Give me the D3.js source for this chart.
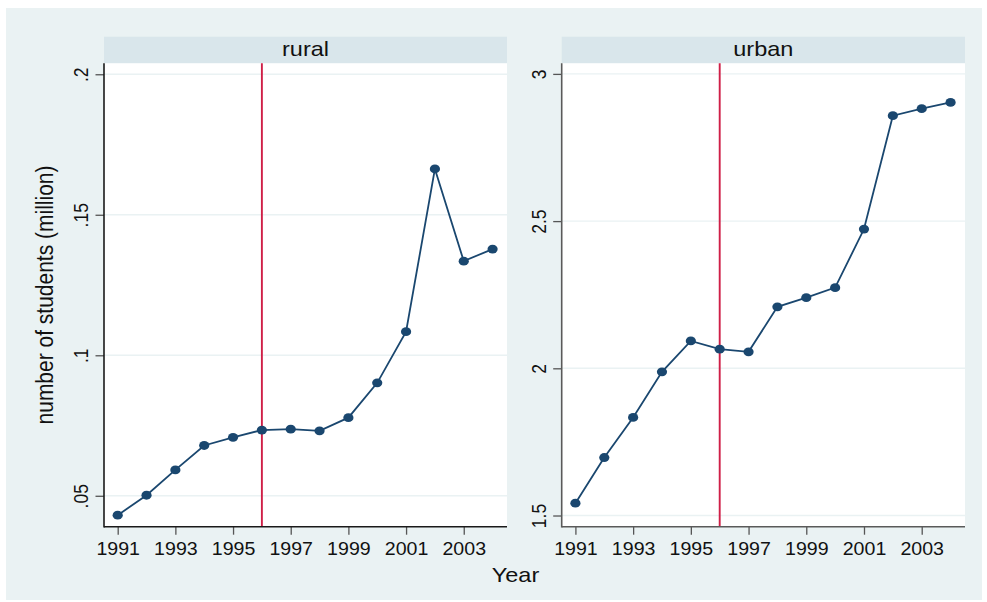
<!DOCTYPE html>
<html>
<head>
<meta charset="utf-8">
<script src="https://cdn.jsdelivr.net/npm/d3@7"></script>
<style>
  html, body { margin: 0; padding: 0; background: #ffffff; }
  text { font-family: "Liberation Sans", Arial, Helvetica, sans-serif; fill: #111; }
</style>
</head>
<body>
<svg id="chart" width="987" height="602"></svg>
<script>
// Number of students (million) by year, rural vs urban
const years = [1991, 1992, 1993, 1994, 1995, 1996, 1997, 1998, 1999, 2000, 2001, 2002, 2003, 2004];
const rural = [0.0431, 0.0502, 0.0592, 0.0679, 0.0708, 0.0734, 0.0737, 0.0731, 0.0778, 0.0902, 0.1084, 0.1663, 0.1335, 0.1378];
const urban = [1.542, 1.697, 1.833, 1.988, 2.093, 2.065, 2.056, 2.209, 2.240, 2.274, 2.473, 2.858, 2.882, 2.903];
const ruralTicks = [0.05, 0.10, 0.15, 0.20];
const urbanTicks = [1.5, 2, 2.5, 3];
const yearTicks = [1991, 1993, 1995, 1997, 1999, 2001, 2003];
const policyYear = 1996;
const yTitle = "number of students (million)";
const xTitle = "Year";

const svg = d3.select("#chart");
const SX = 1.12;            // horizontal glyph width factor
const navy = "#1a476f";
const plotTop = 63.3, plotBottom = 526.7;

// outer graph region
svg.append("rect")
  .attr("x", 6).attr("y", 8).attr("width", 976).attr("height", 592)
  .attr("fill", "#eaf2f3");

const stripFmt = d => d3.format(".2~f")(d).replace(/^0/, "");

const panels = [
  { name: "rural", values: rural, ticks: ruralTicks, domain: [0.039, 0.2039],
    x0: 104, x1: 507, fmt: stripFmt, axisColor: "#1a1a1a" },
  { name: "urban", values: urban, ticks: urbanTicks, domain: [1.462, 3.036],
    x0: 561.7, x1: 965, fmt: d3.format("~g"), axisColor: "#5a5a5a" }
];

panels.forEach(p => {
  const g = svg.append("g");
  const x = d3.scaleLinear().domain([1990.525, 2004.5]).range([p.x0, p.x1]);
  const y = d3.scaleLinear().domain(p.domain).range([plotBottom, plotTop]);

  // header strip
  g.append("rect")
    .attr("x", p.x0).attr("y", 36.7).attr("width", p.x1 - p.x0).attr("height", plotTop - 36.7)
    .attr("fill", "#d9e6eb");
  g.append("text")
    .attr("transform", `translate(${(p.x0 + p.x1) / 2},55.5) scale(${SX},1)`)
    .attr("text-anchor", "middle")
    .style("font-size", "21px")
    .text(p.name);

  // plot region
  g.append("rect")
    .attr("x", p.x0).attr("y", plotTop).attr("width", p.x1 - p.x0).attr("height", plotBottom - plotTop)
    .attr("fill", "#ffffff");

  // horizontal grid
  g.selectAll("line.grid").data(p.ticks).join("line")
    .attr("class", "grid")
    .attr("x1", p.x0).attr("x2", p.x1)
    .attr("y1", d => y(d)).attr("y2", d => y(d))
    .attr("stroke", "#eaf2f3").attr("stroke-width", 1.4);

  // reference year
  g.append("line")
    .attr("x1", x(policyYear)).attr("x2", x(policyYear))
    .attr("y1", plotTop).attr("y2", plotBottom)
    .attr("stroke", "#cf1f47").attr("stroke-width", 1.9);

  // series
  const pts = years.map((yr, i) => [yr, p.values[i]]);
  g.append("path")
    .datum(pts)
    .attr("fill", "none").attr("stroke", navy).attr("stroke-width", 1.8)
    .attr("d", d3.line().x(d => x(d[0])).y(d => y(d[1])));
  g.selectAll("ellipse.pt").data(pts).join("ellipse")
    .attr("class", "pt")
    .attr("cx", d => x(d[0])).attr("cy", d => y(d[1]))
    .attr("rx", 5.1).attr("ry", 4.4)
    .attr("fill", navy);

  // x axis
  const xa = g.append("g")
    .attr("transform", `translate(0,${plotBottom})`)
    .call(d3.axisBottom(x).tickValues(yearTicks).tickSize(8).tickSizeOuter(0).tickFormat(d3.format("d")));
  xa.select(".domain").remove();
  xa.selectAll(".tick line").attr("stroke", "#555").attr("stroke-width", 1.3);
  xa.selectAll(".tick text")
    .attr("y", null).attr("dy", null)
    .attr("transform", `translate(0,27.8) scale(${SX},1)`)
    .style("font-size", "17.5px").style("font-family", null).attr("fill", "#111");
  g.append("line")
    .attr("x1", p.x0).attr("x2", p.x1).attr("y1", plotBottom).attr("y2", plotBottom)
    .attr("stroke", p.axisColor).attr("stroke-width", 1.4);

  // y axis
  const ya = g.append("g")
    .attr("transform", `translate(${p.x0},0)`)
    .call(d3.axisLeft(y).tickValues(p.ticks).tickSize(8.5).tickSizeOuter(0).tickFormat(p.fmt));
  ya.select(".domain").remove();
  ya.selectAll(".tick line").attr("stroke", "#555").attr("stroke-width", 1.3);
  ya.selectAll(".tick text")
    .attr("x", null).attr("dy", null)
    .attr("text-anchor", "middle")
    .attr("transform", `translate(-16,0) scale(${SX},1) rotate(-90)`)
    .style("font-size", "17.5px").style("font-family", null).attr("fill", "#111");
  g.append("line")
    .attr("x1", p.x0).attr("x2", p.x0).attr("y1", plotTop).attr("y2", plotBottom + 0.7)
    .attr("stroke", p.axisColor).attr("stroke-width", 1.6);
});

// axis titles
svg.append("text")
  .attr("transform", `translate(53,295) scale(${SX},1) rotate(-90)`)
  .attr("text-anchor", "middle")
  .style("font-size", "21px")
  .text(yTitle);
svg.append("text")
  .attr("transform", `translate(515.5,581.5) scale(${SX},1)`)
  .attr("text-anchor", "middle")
  .style("font-size", "21px")
  .text(xTitle);
</script>
</body>
</html>
